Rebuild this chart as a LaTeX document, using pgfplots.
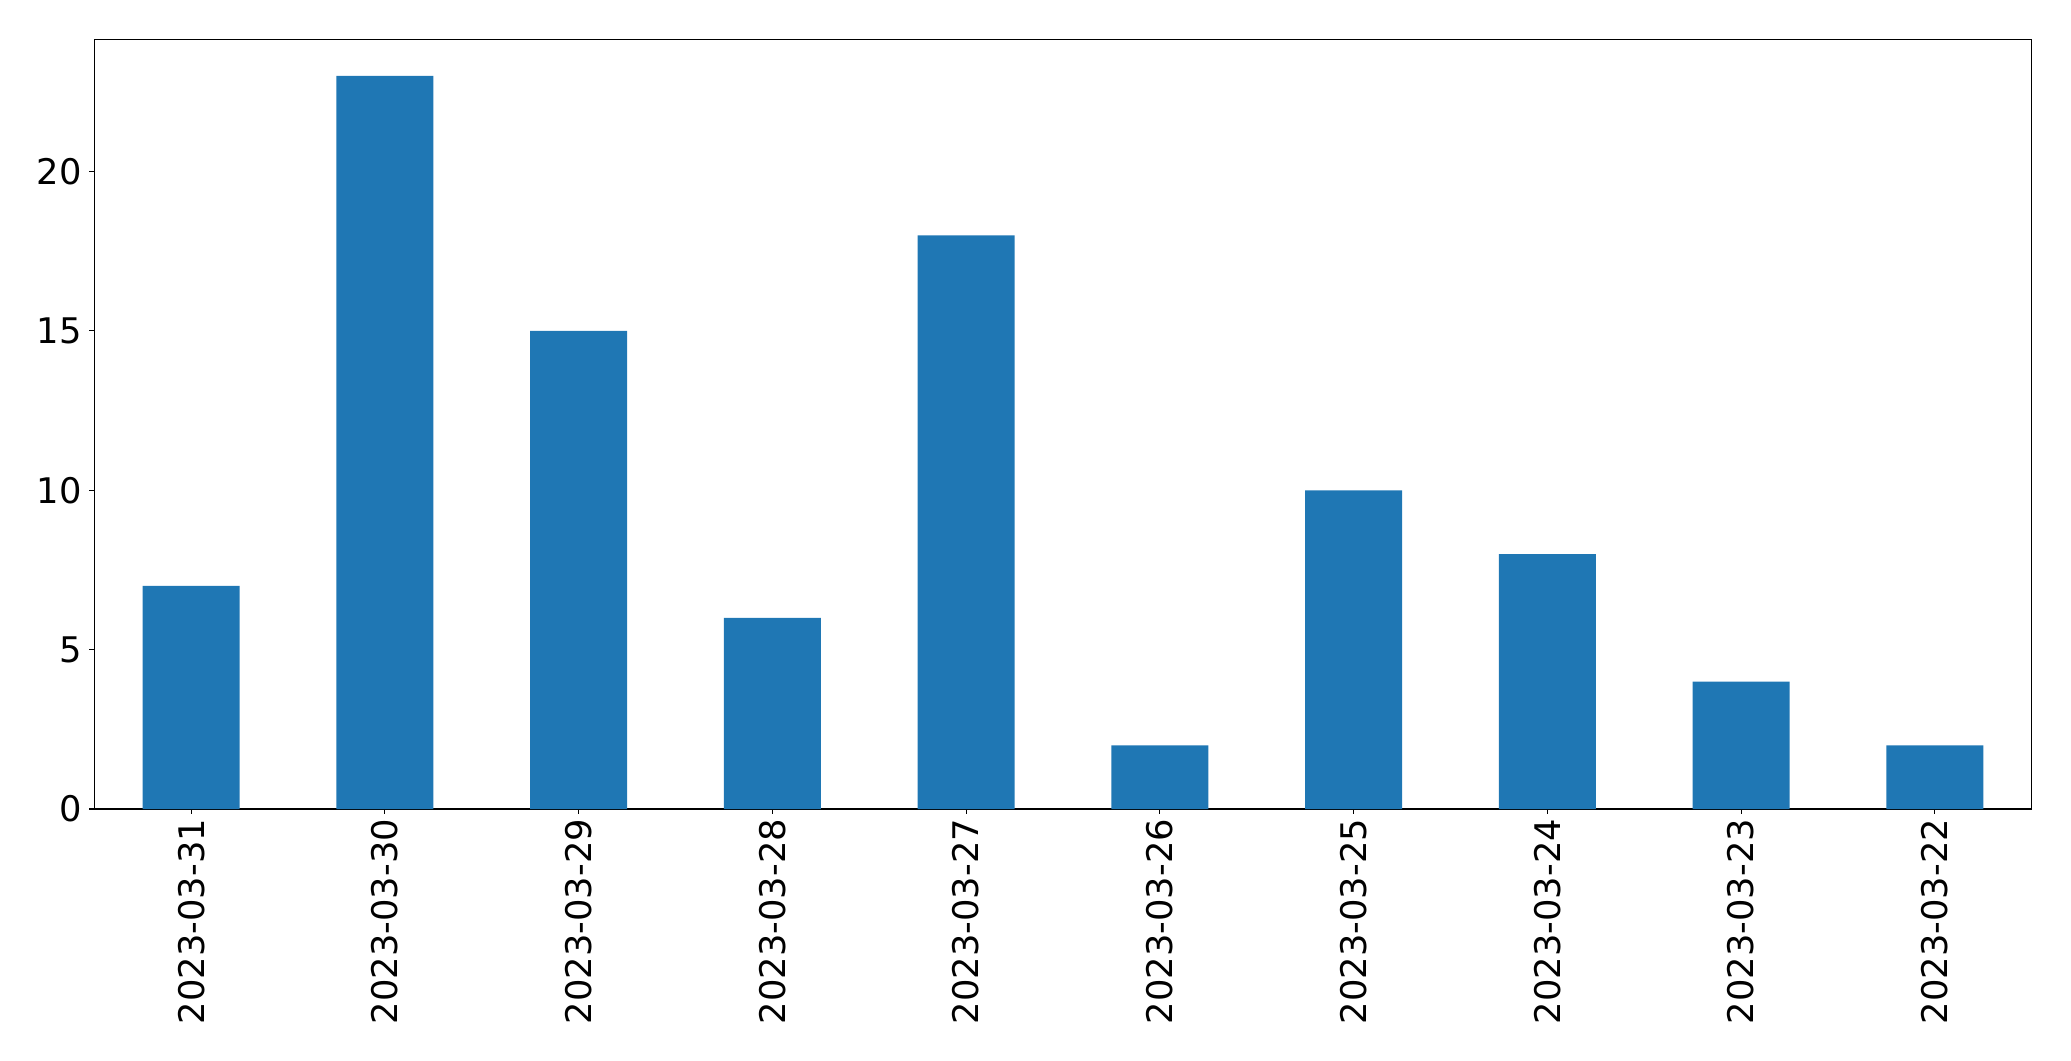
\documentclass[border=0pt]{standalone}
\usepackage{pgfplots}
\pgfplotsset{compat=1.18}
\usepackage{fontspec}
\setmainfont{DejaVu Sans}
\definecolor{mplblue}{HTML}{1F77B4}
\begin{document}
\begin{tikzpicture}
\begin{axis}[
  at={(0,0)}, anchor=south west,
  scale only axis,
  width=1394.9bp, height=554.2bp,
  xmin=-0.5, xmax=9.5, ymin=0, ymax=24.15,
  axis line style={line width=0.8bp},
  every tick/.style={line width=0.8bp, black},
  tick align=outside,
  xtick pos=bottom, ytick pos=left,
  major tick length=3.5bp,
  xtick={0,1,2,3,4,5,6,7,8,9},
  xticklabels={2023-03-31,2023-03-30,2023-03-29,2023-03-28,2023-03-27,2023-03-26,2023-03-25,2023-03-24,2023-03-23,2023-03-22},
  ytick={0,5,10,15,20},
  /pgf/number format/assume math mode=true,
  ticklabel style={font=\fontsize{25.5}{30}\selectfont},
  xticklabel style={rotate=90, anchor=east, inner sep=0pt, xshift=-3.5bp},
  yticklabel style={anchor=east, inner sep=0pt, xshift=-5.5bp},
]
\addplot[ybar, bar width=0.5, fill=mplblue, draw=none] coordinates {
  (0,7) (1,23) (2,15) (3,6) (4,18) (5,2) (6,10) (7,8) (8,4) (9,2)
};
\end{axis}
\pgfresetboundingbox
\path (-67.9bp,-181.4bp) rectangle (1423.2bp,582.5bp);
\end{tikzpicture}
\end{document}
